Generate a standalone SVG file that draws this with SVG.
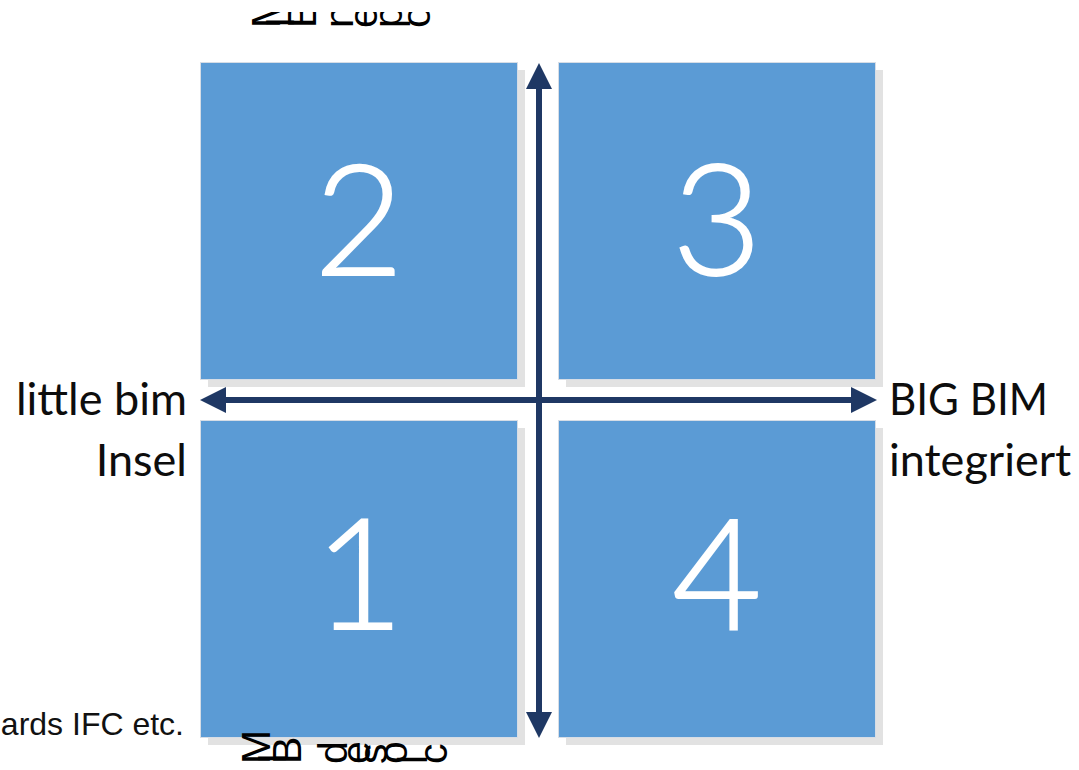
<svg xmlns="http://www.w3.org/2000/svg" width="1079" height="770" viewBox="0 0 1079 770">
<style>
.sq{fill:#5b9bd5;stroke:#d6dde6;stroke-width:1}
.sh{fill:#e2e2e2}
.num{font-family:Lato,"Open Sans",sans-serif;font-weight:300;font-size:155px;fill:#ffffff;stroke:#ffffff;stroke-width:1.8;text-anchor:middle}
.lbl{font-family:Lato,"Open Sans",sans-serif;font-size:45px;fill:#0d0d0d}
.rot{font-family:"Liberation Sans",Arial,sans-serif;font-size:41px;fill:#000000}
.note{font-family:"Liberation Sans",Arial,sans-serif;font-size:32px;fill:#111111}
.ax{stroke:#1f3864;stroke-width:6;fill:none}
</style>
<defs>
<marker id="ah" viewBox="0 0 26 26" refX="19" refY="13" markerWidth="26" markerHeight="26" markerUnits="userSpaceOnUse" orient="auto-start-reverse">
<path d="M0,0 L26,13 L0,26 Z" fill="#1f3864"/>
</marker>
<clipPath id="topclip"><rect x="0" y="12" width="1079" height="30"/></clipPath>
</defs>
<rect width="1079" height="770" fill="#ffffff"/>
<g id="q2">
<rect class="sh" x="208" y="70" width="317" height="317"/>
<rect class="sq" x="200.5" y="62.5" width="317" height="317"/>
<text class="num" x="359" y="275">2</text>
</g>
<g id="q3">
<rect class="sh" x="566" y="70" width="317" height="317"/>
<rect class="sq" x="558.5" y="62.5" width="317" height="317"/>
<text class="num" x="717" y="275">3</text>
</g>
<g id="q1">
<rect class="sh" x="208" y="428" width="317" height="317"/>
<rect class="sq" x="200.5" y="420.5" width="317" height="317"/>
<text class="num" x="359" y="629">1</text>
</g>
<g id="q4">
<rect class="sh" x="566" y="428" width="317" height="317"/>
<rect class="sq" x="558.5" y="420.5" width="317" height="317"/>
<text class="num" x="717" y="629">4</text>
</g>
<g id="connectors">
<line class="ax" x1="539" y1="70" x2="539" y2="731" marker-start="url(#ah)" marker-end="url(#ah)"/>
<line class="ax" x1="207" y1="400" x2="870" y2="400" marker-start="url(#ah)" marker-end="url(#ah)"/>
</g>
<g id="label-left">
<text class="lbl" x="187" y="415" text-anchor="end">little bim</text>
<text class="lbl" x="187" y="476" text-anchor="end">Insel</text>
</g>
<g id="label-right">
<text class="lbl" x="889" y="415" textLength="159" lengthAdjust="spacingAndGlyphs">BIG BIM</text>
<text class="lbl" x="889" y="476">integriert</text>
</g>
<g id="label-top" clip-path="url(#topclip)">
<text class="rot" x="430 402 377 353 332 316 294 280" y="28" rotate="-90">open BIM</text>
</g>
<g id="label-bottom">
<text class="rot" x="447 427 407 387 370 347 330 301 286 270" y="764" rotate="-90">closed BIM</text>
</g>
<g id="note">
<text class="note" x="184" y="735" text-anchor="end">ards IFC etc.</text>
</g>
</svg>
